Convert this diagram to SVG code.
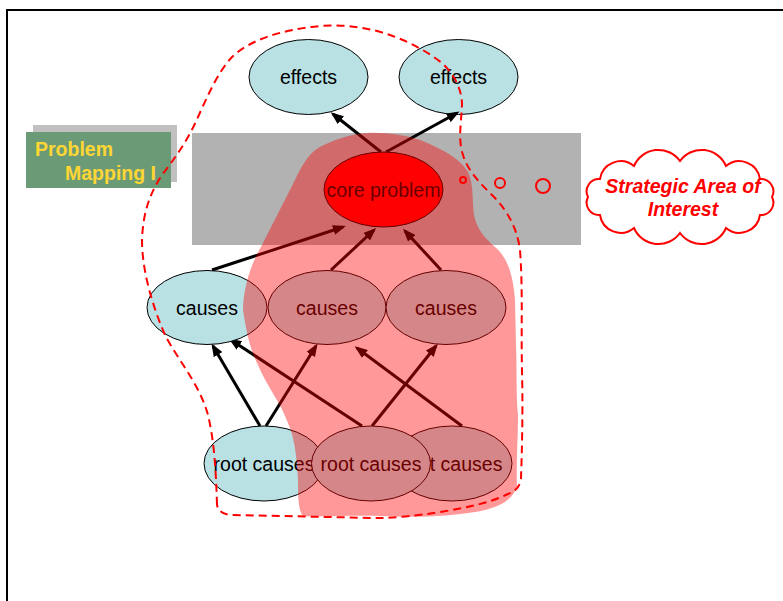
<svg xmlns="http://www.w3.org/2000/svg" width="783" height="601" viewBox="0 0 783 601">
<style>
text{font-family:"Liberation Sans",Arial,sans-serif;font-size:19.5px}
.node{fill:#B9E0E3;stroke:#000;stroke-width:1}
.lbl{text-anchor:middle;fill:#000}
.conn{stroke:#000;stroke-width:3;fill:none;marker-end:url(#ah)}
</style>
<defs>
<marker id="ah" markerWidth="13" markerHeight="10" refX="10" refY="5" orient="auto" markerUnits="userSpaceOnUse">
<path d="M0,0 L13,5 L0,10 Z" fill="#000"/>
</marker>
</defs>
<rect x="7" y="10" width="790" height="600" fill="#fff" stroke="#000" stroke-width="2"/>
<g id="label">
<rect x="33" y="125" width="144" height="57" fill="#C0C0C0"/>
<rect x="26" y="132" width="145" height="56" fill="#6B9B76"/>
<text x="35" y="156" style="font-weight:bold;fill:#FFD633">Problem</text>
<text x="65" y="180" style="font-weight:bold;fill:#FFD633">Mapping I</text>
</g>
<rect id="band" x="192" y="133" width="389" height="112" fill="#B2B2B2"/>
<g id="effects1"><ellipse class="node" cx="308.5" cy="77" rx="59.5" ry="37.5"/><text class="lbl" x="308.5" y="84">effects</text></g>
<g id="effects2"><ellipse class="node" cx="458.5" cy="77" rx="59.5" ry="37.5"/><text class="lbl" x="458.5" y="84">effects</text></g>
<g id="connectors">
<line class="conn" x1="381" y1="152" x2="333" y2="114"/>
<line class="conn" x1="386" y1="152" x2="457" y2="113"/>
<line class="conn" x1="212" y1="270" x2="343" y2="227"/>
<line class="conn" x1="331" y1="270" x2="374" y2="230"/>
<line class="conn" x1="441" y1="270" x2="405" y2="231"/>
<line class="conn" x1="260" y1="426" x2="213" y2="346"/>
<line class="conn" x1="266" y1="426" x2="316" y2="346"/>
<line class="conn" x1="362" y1="426" x2="231" y2="340"/>
<line class="conn" x1="372" y1="426" x2="436" y2="346"/>
<line class="conn" x1="462" y1="426" x2="357" y2="348"/>
</g>
<g id="core"><ellipse cx="383.5" cy="189.5" rx="59.5" ry="37.5" fill="#FF0000" stroke="#000" stroke-width="1"/><text class="lbl" x="383.5" y="196.5">core problem</text></g>
<g id="causes1"><ellipse class="node" cx="207" cy="307.5" rx="60" ry="37"/><text class="lbl" x="207" y="314.5">causes</text></g>
<g id="causes2"><ellipse class="node" cx="327" cy="307.5" rx="59" ry="37"/><text class="lbl" x="327" y="314.5">causes</text></g>
<g id="causes3"><ellipse class="node" cx="446" cy="307.5" rx="60" ry="37"/><text class="lbl" x="446" y="314.5">causes</text></g>
<g id="root1"><ellipse class="node" cx="264" cy="463.5" rx="60" ry="37.5"/><text class="lbl" x="264" y="470.5">root causes</text></g>
<g id="root3"><ellipse class="node" cx="452" cy="463.5" rx="60" ry="37.5"/><text class="lbl" x="452" y="470.5">root causes</text></g>
<g id="root2"><ellipse class="node" cx="371" cy="463.5" rx="59.5" ry="37.5"/><text class="lbl" x="371" y="470.5">root causes</text></g>
<path id="blob" d="M367,133 C385,132 405,135 420,140 C440,148 460,158 468,172 C474,185 472,200 474,215 C477,230 485,238 495,247 C508,258 513,275 515,300 L516,345 C517,370 516,395 518,415 C518,440 516,465 517,487 C512,500 500,508 475,512 C450,516 420,518 380,516 C350,515 320,517 303,516 C298,510 298,495 298,480 C297,460 295,442 290,428 C283,410 280,405 275,397 C268,385 262,375 258,365 C250,350 246,330 243,310 C243,290 250,265 262,245 C272,225 285,200 295,180 C302,165 308,155 318,148 C333,140 350,134 367,133 Z" fill="#FF0000" fill-opacity="0.4"/>
<path id="area" d="M217,505 C216,470 214,440 208,415 C200,385 178,360 165,335 C152,305 142,270 142,240 C143,212 150,193 162,175 C175,158 188,140 198,117 C208,95 218,72 232,57 C250,40 280,30 320,26 C345,24 370,28 390,35 C410,42 428,52 442,63 C455,75 462,90 462,105 C461,125 458,140 463,155 C468,172 482,185 495,198 C508,212 517,228 520,250 C523,290 521,330 522,370 C523,410 522,450 521,478 Q520,490 508,494 C490,503 465,508 440,512 C415,516 395,518 375,518 L233,515 Q219,515 217,505 Z" fill="none" stroke="#FF0000" stroke-width="2" stroke-dasharray="8 5"/>
<g id="bubbles" fill="none" stroke="#FF0000" stroke-width="2">
<circle cx="463" cy="180" r="3"/>
<circle cx="500" cy="183" r="5"/>
<circle cx="543" cy="186" r="7"/>
</g>
<g id="cloud">
<path d="M588,197 A12.4,12.4 0 0 1 600,179 A20.9,20.9 0 0 1 634,166 A26.6,26.6 0 0 1 680,161 A26.6,26.6 0 0 1 726,166 A20.9,20.9 0 0 1 760,179 A12.4,12.4 0 0 1 772,197 A12.4,12.4 0 0 1 760,215 A20.9,20.9 0 0 1 726,228 A26.6,26.6 0 0 1 680,233 A26.6,26.6 0 0 1 634,228 A20.9,20.9 0 0 1 600,215 A12.4,12.4 0 0 1 588,197 Z" fill="#fff" stroke="#FF0000" stroke-width="2"/>
<text x="683" y="193" style="font-weight:bold;font-style:italic;fill:#FF0000;text-anchor:middle">Strategic Area of</text>
<text x="683" y="216" style="font-weight:bold;font-style:italic;fill:#FF0000;text-anchor:middle">Interest</text>
</g>
</svg>
